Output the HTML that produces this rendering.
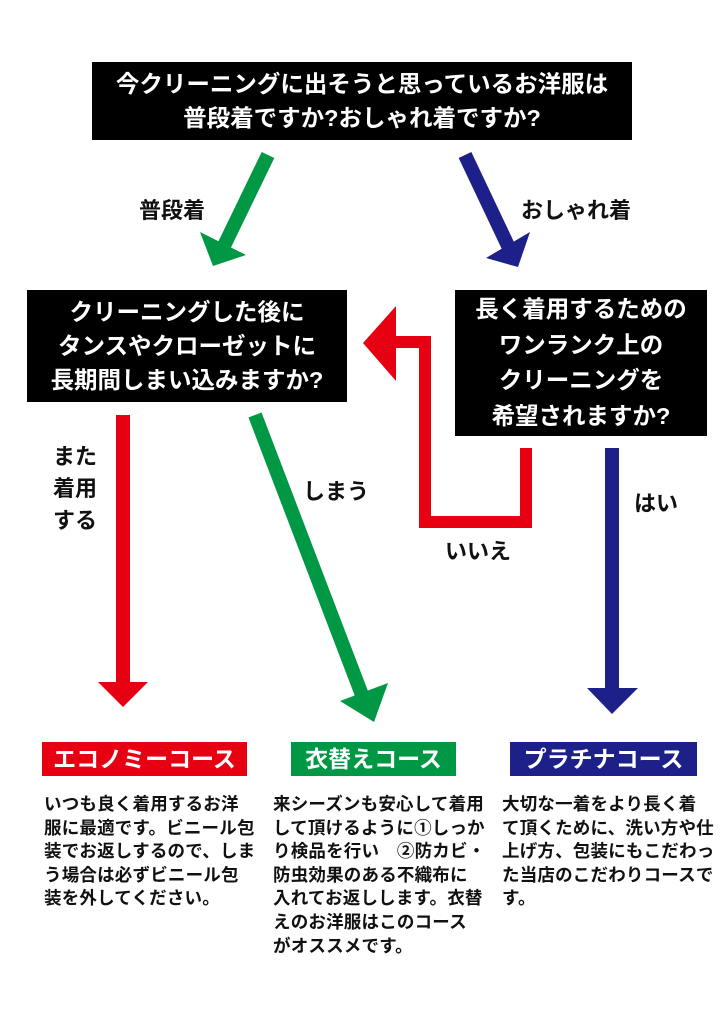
<!DOCTYPE html>
<html><head><meta charset="utf-8"><style>
body{margin:0;width:724px;height:1024px;background:#fff;position:relative;overflow:hidden;font-family:"Liberation Sans","Noto Sans CJK JP",sans-serif;}
.box{position:absolute;background:#000;color:#fff;font-weight:bold;text-align:center;display:flex;align-items:center;justify-content:center;white-space:nowrap;}
.lbl{position:absolute;font-weight:bold;font-size:22px;color:#111;white-space:nowrap;}
.course{position:absolute;color:#fff;font-weight:bold;font-size:23px;text-align:center;line-height:34px;height:34px;white-space:nowrap;}
.desc{position:absolute;font-size:17.5px;line-height:23.6px;color:#111;font-weight:bold;white-space:nowrap;letter-spacing:0.2px;}
svg{position:absolute;left:0;top:0}
</style></head><body>
<svg width="724" height="1024">
<g fill="#009844" stroke="none">
<line x1="268" y1="155" x2="222" y2="250" stroke="#009844" stroke-width="14"/>
<polygon points="200,232 246,255 213,266"/>
<line x1="255" y1="415" x2="362" y2="695" stroke="#009844" stroke-width="14"/>
<polygon points="340,701 388,683 374,722"/>
</g>
<g fill="#1d2088">
<line x1="465" y1="155" x2="510" y2="250" stroke="#1d2088" stroke-width="14"/>
<polygon points="486,258 530,232 518,267"/>
<line x1="612" y1="448" x2="612" y2="690" stroke="#1d2088" stroke-width="14"/>
<polygon points="587,688 638,688 612,714"/>
</g>
<g fill="#e60012">
<line x1="123" y1="415" x2="123" y2="682" stroke="#e60012" stroke-width="14"/>
<polygon points="98,682 148,682 123,707"/>
<polyline points="526,448 526,522 425,522 425,342 390,342" fill="none" stroke="#e60012" stroke-width="12"/>
<polygon points="396,306 396,381 363,343"/>
</g>
</svg>
<div class="box" style="left:92px;top:62px;width:540px;height:78px;font-size:23.5px;line-height:34px;">今クリーニングに出そうと思っているお洋服は<br>普段着ですか?おしゃれ着ですか?</div>
<div class="box" style="left:27px;top:290px;width:320px;height:112px;font-size:23.5px;line-height:34px;">クリーニングした後に<br>タンスやクローゼットに<br>長期間しまい込みますか?</div>
<div class="box" style="left:455px;top:290px;width:252px;height:146px;font-size:23.5px;line-height:35.5px;">長く着用するための<br>ワンランク上の<br>クリーニングを<br>希望されますか?</div>
<div class="lbl" style="left:139px;top:193px;">普段着</div>
<div class="lbl" style="left:521px;top:193px;">おしゃれ着</div>
<div class="lbl" style="left:53px;top:441px;line-height:32px;text-align:center;">また<br>着用<br>する</div>
<div class="lbl" style="left:303px;top:474px;">しまう</div>
<div class="lbl" style="left:445px;top:534px;">いいえ</div>
<div class="lbl" style="left:634px;top:486px;">はい</div>
<div class="course" style="left:42px;top:742px;width:205px;background:#e60012;">エコノミーコース</div>
<div class="course" style="left:291px;top:742px;width:165px;background:#009844;">衣替えコース</div>
<div class="course" style="left:510px;top:742px;width:187px;background:#1d2088;">プラチナコース</div>
<div class="desc" style="left:44px;top:793px;">いつも良く着用するお洋<br>服に最適です。ビニール包<br>装でお返しするので、しま<br>う場合は必ずビニール包<br>装を外してください。</div>
<div class="desc" style="left:273px;top:793px;">来シーズンも安心して着用<br>して頂けるように①しっか<br>り検品を行い　②防カビ・<br>防虫効果のある不織布に<br>入れてお返しします。衣替<br>えのお洋服はこのコース<br>がオススメです。</div>
<div class="desc" style="left:502px;top:793px;">大切な一着をより長く着<br>て頂くために、洗い方や仕<br>上げ方、包装にもこだわっ<br>た当店のこだわりコースで<br>す。</div>
</body></html>
